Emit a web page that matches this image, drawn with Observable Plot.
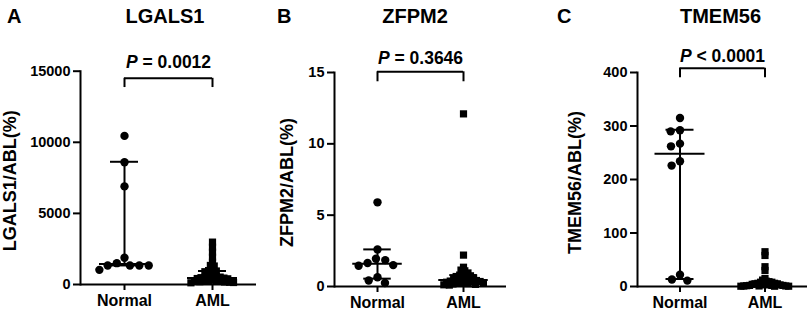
<!DOCTYPE html>
<html><head><meta charset="utf-8">
<script src="https://cdn.jsdelivr.net/npm/d3@7"></script>
<script src="https://cdn.jsdelivr.net/npm/@observablehq/plot@0.6"></script>
<style>
body{margin:0;background:#fff;}
#wrap{position:relative;width:809px;height:314px;overflow:hidden;font-family:"Liberation Sans",Arial,sans-serif;font-weight:bold;color:#000;background:#fff;}
.panel{position:absolute;top:0;height:314px;}
.lbl{position:absolute;font-size:20px;font-weight:bold;line-height:1;white-space:nowrap;}
</style></head><body><div id="wrap"></div>
<script>
// ---- data ----
const groups = ["Normal", "AML"];
const panelLetters = ["A", "B", "C"];
const genes = ["LGALS1", "ZFPM2", "TMEM56"];
const yLabels = ["LGALS1/ABL(%)", "ZFPM2/ABL(%)", "TMEM56/ABL(%)"];
const pSymbol = "P";
const pText = ["= 0.0012", "= 0.3646", "< 0.0001"];
const yDomains = [[0, 15000], [0, 15], [0, 400]];
const yTicks = [[0, 5000, 10000, 15000], [0, 5, 10, 15], [0, 100, 200, 300, 400]];

const lgals1Normal = [10450, 8600, 6900, 1880, 1500, 1340, 1340, 1340, 1340, 1030];
const lgals1AML = [2980, 2620, 2270, 1920, 1570, 1340, 1300, 1000, 980, 950, 900, 620, 580, 550, 520, 500, 480, 450, 420, 400, 300, 280, 260, 250, 240, 220, 200, 180, 160, 140, 120];
const zfpm2Normal = [5.9, 2.6, 1.95, 1.85, 1.65, 1.5, 1.45, 0.65, 0.42, 0.25];
const zfpm2AML = [12.1, 2.2, 1.35, 1.15, 1.1, 0.95, 0.8, 0.8, 0.75, 0.7, 0.65, 0.6, 0.55, 0.5, 0.48, 0.45, 0.42, 0.4, 0.38, 0.35, 0.32, 0.3, 0.28, 0.25, 0.22, 0.2, 0.18, 0.15, 0.12, 0.1];
const tmem56Normal = [315, 292, 290, 267, 262, 234, 226, 22, 13, 11];
const tmem56AML = [65, 58, 37, 30, 15, 12, 10, 9, 8, 8, 7, 6, 6, 5, 5, 4, 4, 3, 3, 3, 2, 2, 2, 1.5, 1, 1, 1, 0.5, 0.5, 0.5];

// median / lower / upper (Normal, AML)
const medians = [[1450, 450], [1.6, 0.45], [248, 4]];
const lowers = [[1340, 220], [0.55, 0.25], [14, 2]];
const uppers = [[8630, 950], [2.6, 0.8], [293, 9]];

const bracketTop = [14500, 15.05, 408];
const bracketBottom = [13850, 14.35, 390];
const pY = [15250, 15.6, 420];

const normals = [lgals1Normal, zfpm2Normal, tmem56Normal];
const amls = [lgals1AML, zfpm2AML, tmem56AML];

// ---- layout (style only) ----
const layout = [
  {left: 0, width: 270, ml: 80, mr: 14, mt: 70.7, mb: 30, titleX: 165, letterX: 7, labelDx: -70, sqR: 1.45},
  {left: 270, width: 270, ml: 63, mr: 34, mt: 72, mb: 28, titleX: 415, letterX: 277, labelDx: -47.5, sqR: 1.4},
  {left: 540, width: 269, ml: 97, mr: 2, mt: 72, mb: 28, titleX: 720.5, letterX: 557, labelDx: -62, sqR: 0.95}
];
const medianHalf = 25, capHalf = 14, squareSide = 7.2;
const svgNS = "http://www.w3.org/2000/svg";
const wrap = document.getElementById("wrap");

function makePanel(i) {
  const L = layout[i];
  const facetW = (L.width - L.ml - L.mr) / groups.length;
  const normalRows = normals[i].map(v => ({group: groups[0], value: v}));
  const amlRows = amls[i].map(v => ({group: groups[1], value: v}));
  const statRows = groups.map((g, j) => ({group: g, median: medians[i][j], lower: lowers[i][j], upper: uppers[i][j]}));
  const bracketRows = groups.map((g, j) => ({group: g, x1: j === 0 ? 0 : -1, x2: j === 0 ? 1 : 0}));
  const pFull = pSymbol + " " + pText[i];
  const center = () => 0;
  const sqStroke = squareSide - Math.sqrt(Math.PI) * L.sqR;

  const chart = Plot.plot({
    width: L.width, height: 314,
    marginLeft: L.ml, marginRight: L.mr, marginTop: L.mt, marginBottom: L.mb,
    style: {fontFamily: "'Liberation Sans', Arial, sans-serif", fontWeight: "bold", fontSize: "14.5px", color: "#000", background: "transparent", overflow: "visible"},
    fx: {domain: groups, padding: 0, label: null},
    x: {domain: [-1, 1], axis: null},
    y: {domain: yDomains[i], label: null},
    marks: [
      Plot.ruleY([0], {strokeWidth: 2}),
      Plot.frame({anchor: "left", facetAnchor: "left", strokeWidth: 2}),
      Plot.axisY({ticks: yTicks[i], tickSize: 7, tickPadding: 3, tickFormat: d => String(d), label: null, strokeWidth: 2, fontSize: 14.5}),
      Plot.axisFx({anchor: "bottom", tickSize: 6, tickPadding: 4, label: null, strokeWidth: 2, fontSize: 16}),
      Plot.ruleX(statRows, {fx: "group", x: center, y1: "lower", y2: "upper", strokeWidth: 2}),
      Plot.tickY(statRows, {fx: "group", y: "median", insetLeft: facetW / 2 - medianHalf, insetRight: facetW / 2 - medianHalf, strokeWidth: 2}),
      Plot.tickY(statRows, {fx: "group", y: "upper", insetLeft: facetW / 2 - capHalf, insetRight: facetW / 2 - capHalf, strokeWidth: 2}),
      Plot.tickY(statRows, {fx: "group", y: "lower", insetLeft: facetW / 2 - capHalf, insetRight: facetW / 2 - capHalf, strokeWidth: 2}),
      Plot.dot(normalRows, Plot.dodgeX("middle", {fx: "group", y: "value", r: 4.2, padding: 0, symbol: "circle", fill: "#000"})),
      Plot.dot(amlRows, Plot.dodgeX("middle", {fx: "group", y: "value", r: L.sqR, padding: 0, symbol: "square", fill: "#000", stroke: "#000", strokeWidth: sqStroke, strokeLinejoin: "miter"})),
      Plot.ruleY(bracketRows, {fx: "group", x1: "x1", x2: "x2", y: () => bracketTop[i], strokeWidth: 2}),
      Plot.ruleX(bracketRows, {fx: "group", x: center, y1: () => bracketBottom[i], y2: () => bracketTop[i], strokeWidth: 2}),
      Plot.text([{group: groups[0]}], {fx: "group", x: () => 1, y: () => pY[i], text: () => pFull, textAnchor: "middle", lineAnchor: "bottom", fontSize: 17.5, fontWeight: "bold"}),
      Plot.text([{group: groups[0]}], {fx: "group", frameAnchor: "left", textAnchor: "middle", text: () => yLabels[i], rotate: -90, dx: L.labelDx, dy: 3, fontSize: 18, fontWeight: "bold"})
    ]
  });

  chart.querySelectorAll("text").forEach(t => {
    if (t.textContent === pFull) {
      t.textContent = "";
      const a = document.createElementNS(svgNS, "tspan");
      a.setAttribute("font-style", "italic");
      a.textContent = pSymbol;
      t.appendChild(a);
      t.appendChild(document.createTextNode(" " + pText[i]));
    }
  });

  const div = document.createElement("div");
  div.className = "panel";
  div.style.left = L.left + "px";
  div.style.width = L.width + "px";
  div.appendChild(chart);
  wrap.appendChild(div);

  const letter = document.createElement("div");
  letter.className = "lbl";
  letter.textContent = panelLetters[i];
  letter.style.left = L.letterX + "px";
  letter.style.top = "6px";
  wrap.appendChild(letter);

  const title = document.createElement("div");
  title.className = "lbl";
  title.textContent = genes[i];
  title.style.left = (L.titleX - 100) + "px";
  title.style.width = "200px";
  title.style.textAlign = "center";
  title.style.top = "6px";
  wrap.appendChild(title);
}
[0, 1, 2].forEach(makePanel);
</script>
</body></html>
